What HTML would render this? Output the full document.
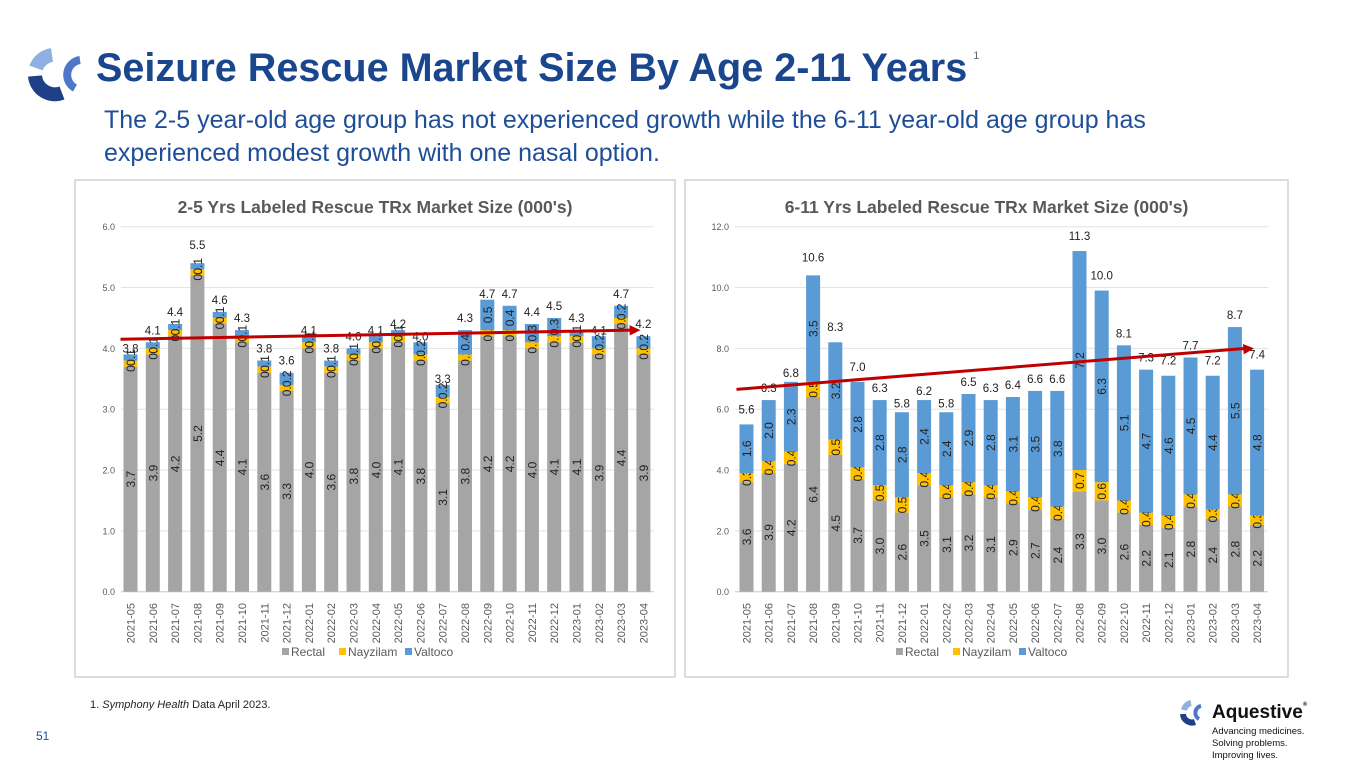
<!DOCTYPE html>
<html><head><meta charset="utf-8">
<style>
body{margin:0;width:1365px;height:768px;background:#fff;overflow:hidden;font-family:"Liberation Sans",sans-serif;position:relative}
.abs{position:absolute}
</style></head><body>
<svg class="abs" style="left:0;top:0" width="1365" height="768">
 <g>
  <path d="M52 55 A20 20 0 0 0 36 68" stroke="#8fb0e0" stroke-width="14" fill="none"/>
  <path d="M35 76 A20 20 0 0 0 62 93" stroke="#1f3f86" stroke-width="14" fill="none"/>
  <path d="M80 60 A15 15 0 0 0 75 88" stroke="#4f77c9" stroke-width="8" fill="none"/>
 </g>
 <g>
  <path d="M1191 703 A9 9 0 0 0 1184 710" stroke="#8fb0e0" stroke-width="6" fill="none"/>
  <path d="M1183 714 A9 9 0 0 0 1195 722" stroke="#1f3f86" stroke-width="6" fill="none"/>
  <path d="M1201 706 A7 7 0 0 0 1199 719" stroke="#4f77c9" stroke-width="4" fill="none"/>
 </g>
</svg>
<div class="abs" style="left:96px;top:46px;font-size:39.6px;font-weight:bold;color:#1a468e;white-space:nowrap">Seizure Rescue Market Size By Age 2-11 Years<sup style="font-size:11px;font-weight:normal;color:#666;vertical-align:top;position:relative;top:4px;left:6px">1</sup></div>
<div class="abs" style="left:104px;top:104px;font-size:25px;line-height:33px;color:#1f4e99;width:1100px">The 2-5 year-old age group has not experienced growth while the 6-11 year-old age group has experienced modest growth with one nasal option.</div>
<div class="abs" style="left:90px;top:699px;font-size:11px;color:#222">1. <i>Symphony Health</i> Data April 2023.</div>
<div class="abs" style="left:36px;top:729px;font-size:12px;color:#1f4e99">51</div>
<div class="abs" style="left:1212px;top:702px;font-size:19px;font-weight:bold;color:#111">Aquestive<span style="font-size:6px;vertical-align:top">®</span></div>
<div class="abs" style="left:1212px;top:726px;font-size:9.5px;line-height:12px;color:#111">Advancing medicines.<br>Solving problems.<br>Improving lives.</div>
<svg id="chart" class="abs" style="left:0;top:0" width="1365" height="768"></svg>
<script>
const months=["2021-05","2021-06","2021-07","2021-08","2021-09","2021-10","2021-11","2021-12","2022-01","2022-02","2022-03","2022-04","2022-05","2022-06","2022-07","2022-08","2022-09","2022-10","2022-11","2022-12","2023-01","2023-02","2023-03","2023-04"];
const leftRectal=[3.7,3.9,4.2,5.2,4.4,4.1,3.6,3.3,4.0,3.6,3.8,4.0,4.1,3.8,3.1,3.8,4.2,4.2,4.0,4.1,4.1,3.9,4.4,3.9];
const leftNayzilam=[0.1,0.1,0.1,0.1,0.1,0.1,0.1,0.1,0.1,0.1,0.1,0.1,0.1,0.1,0.1,0.1,0.1,0.1,0.1,0.1,0.1,0.1,0.1,0.1];
const leftValtoco=[0.1,0.1,0.1,0.1,0.1,0.1,0.1,0.2,0.1,0.1,0.1,0.1,0.1,0.2,0.2,0.4,0.5,0.4,0.3,0.3,0.1,0.2,0.2,0.2];
const leftTotals=[3.8,4.1,4.4,5.5,4.6,4.3,3.8,3.6,4.1,3.8,4.0,4.1,4.2,4.0,3.3,4.3,4.7,4.7,4.4,4.5,4.3,4.1,4.7,4.2];
const leftTicks=[0,1,2,3,4,5,6];
const leftTrend=[4.15,4.3];
const rightRectal=[3.6,3.9,4.2,6.4,4.5,3.7,3.0,2.6,3.5,3.1,3.2,3.1,2.9,2.7,2.4,3.3,3.0,2.6,2.2,2.1,2.8,2.4,2.8,2.2];
const rightNayzilam=[0.3,0.4,0.4,0.5,0.5,0.4,0.5,0.5,0.4,0.4,0.4,0.4,0.4,0.4,0.4,0.7,0.6,0.4,0.4,0.4,0.4,0.3,0.4,0.3];
const rightValtoco=[1.6,2.0,2.3,3.5,3.2,2.8,2.8,2.8,2.4,2.4,2.9,2.8,3.1,3.5,3.8,7.2,6.3,5.1,4.7,4.6,4.5,4.4,5.5,4.8];
const rightTotals=[5.6,6.3,6.8,10.6,8.3,7.0,6.3,5.8,6.2,5.8,6.5,6.3,6.4,6.6,6.6,11.3,10.0,8.1,7.3,7.2,7.7,7.2,8.7,7.4];
const rightTicks=[0,2,4,6,8,10,12];
const rightTrend=[6.65,8.0];

const NS="http://www.w3.org/2000/svg";
const svg=document.getElementById('chart');
function mk(tag,attrs,parent,text){const e=document.createElementNS(NS,tag);for(const k in attrs)e.setAttribute(k,attrs[k]);if(text!==undefined)e.textContent=text;(parent||svg).appendChild(e);return e;}
const COLORS=["#a5a5a5","#ffc000","#5b9bd5"];
const NAMES=["Rectal","Nayzilam","Valtoco"];
function drawChart(cfg){
  const g=mk('g',{});
  
  
  const panel=mk('rect',{x:cfg.px,y:180,width:cfg.pw,height:497,fill:'#fff',stroke:'#d0d0d0','stroke-width':1.5},g);
  
  
  const y0=591.7,yTop=226.7,max=cfg.ticks[cfg.ticks.length-1];
  const ys=v=>y0-(y0-yTop)*v/max;
  const xs=i=>cfg.x0+cfg.step*i;
  const t=mk('text',{x:cfg.px+cfg.pw/2,y:213,'text-anchor':'middle','font-size':17.5,'font-weight':'bold',fill:'#595959'},g,cfg.title);
  
  
  cfg.ticks.forEach(v=>{
    const l=mk('line',{x1:cfg.pl,x2:cfg.pr,y1:ys(v),y2:ys(v),stroke:v===0?'#c8c8c8':'#e3e3e3','stroke-width':1},g);
    
    
    const tl=mk('text',{x:cfg.pl-6,y:ys(v)+3.5,'text-anchor':'end','font-size':9,fill:'#595959'},g,v.toFixed(1));
    
    
  });
  const series=[cfg.r,cfg.n,cfg.v];
  months.forEach((m,i)=>{
    let base=0;
    series.forEach((s,k)=>{
      const val=s[i];
      const r=mk('rect',{x:xs(i)-7,y:ys(base+val),width:14,height:ys(base)-ys(base+val),fill:COLORS[k]},g);
      
      
      const cy=(ys(base)+ys(base+val))/2;
      const lb=mk('text',{x:xs(i)+4.5,y:cy,'text-anchor':'middle','font-size':12,fill:'#222',transform:`rotate(-90 ${xs(i)+4.5} ${cy})`},g,val.toFixed(1));
      
      
      base+=val;
    });
    const tt=mk('text',{x:xs(i),y:ys(cfg.tot[i])-8,'text-anchor':'middle','font-size':11.5,fill:'#222'},g,cfg.tot[i].toFixed(1));
    
    
    const xl=mk('text',{x:xs(i)+4,y:603,'text-anchor':'end','font-size':11,fill:'#595959',transform:`rotate(-90 ${xs(i)+4} 603)`},g,m);
    
    
  });
  const ax1=cfg.x0-10,ax2=xs(months.length-1)-3;
  const tr=mk('line',{x1:ax1,y1:ys(cfg.trend[0]),x2:ax2-8,y2:ys(cfg.trend[1]),stroke:'#c00000','stroke-width':3},g);
  
  
  const ang=Math.atan2(ys(cfg.trend[1])-ys(cfg.trend[0]),ax2-ax1);
  const hx=ax2,hy=ys(cfg.trend[1]);
  const p=(a,d)=>[hx-d*Math.cos(ang+a),hy-d*Math.sin(ang+a)];
  const a1=p(0.45,12),a2=p(-0.45,12);
  const ah=mk('polygon',{points:`${hx},${hy} ${a1[0]},${a1[1]} ${a2[0]},${a2[1]}`,fill:'#c00000'},g);
  
  
  let lx=cfg.legX;
  NAMES.forEach((n,k)=>{
    const sw=mk('rect',{x:lx,y:648,width:7,height:7,fill:COLORS[k]},g);
    
    
    const lt=mk('text',{x:lx+9,y:656,'font-size':12,fill:'#595959'},g,n);
    
    
    lx+=[57,66,0][k];
  });
}
drawChart({name:'chart-2-5-years',px:75,pw:600,pl:121,pr:654,x0:130.5,step:22.3,ticks:leftTicks,r:leftRectal,n:leftNayzilam,v:leftValtoco,tot:leftTotals,trend:leftTrend,title:"2-5 Yrs Labeled Rescue  TRx Market Size (000's)",legX:282});
drawChart({name:'chart-6-11-years',px:685,pw:603,pl:735,pr:1268,x0:746.5,step:22.2,ticks:rightTicks,r:rightRectal,n:rightNayzilam,v:rightValtoco,tot:rightTotals,trend:rightTrend,title:"6-11 Yrs Labeled Rescue  TRx Market Size (000's)",legX:896});
</script>
</body></html>
